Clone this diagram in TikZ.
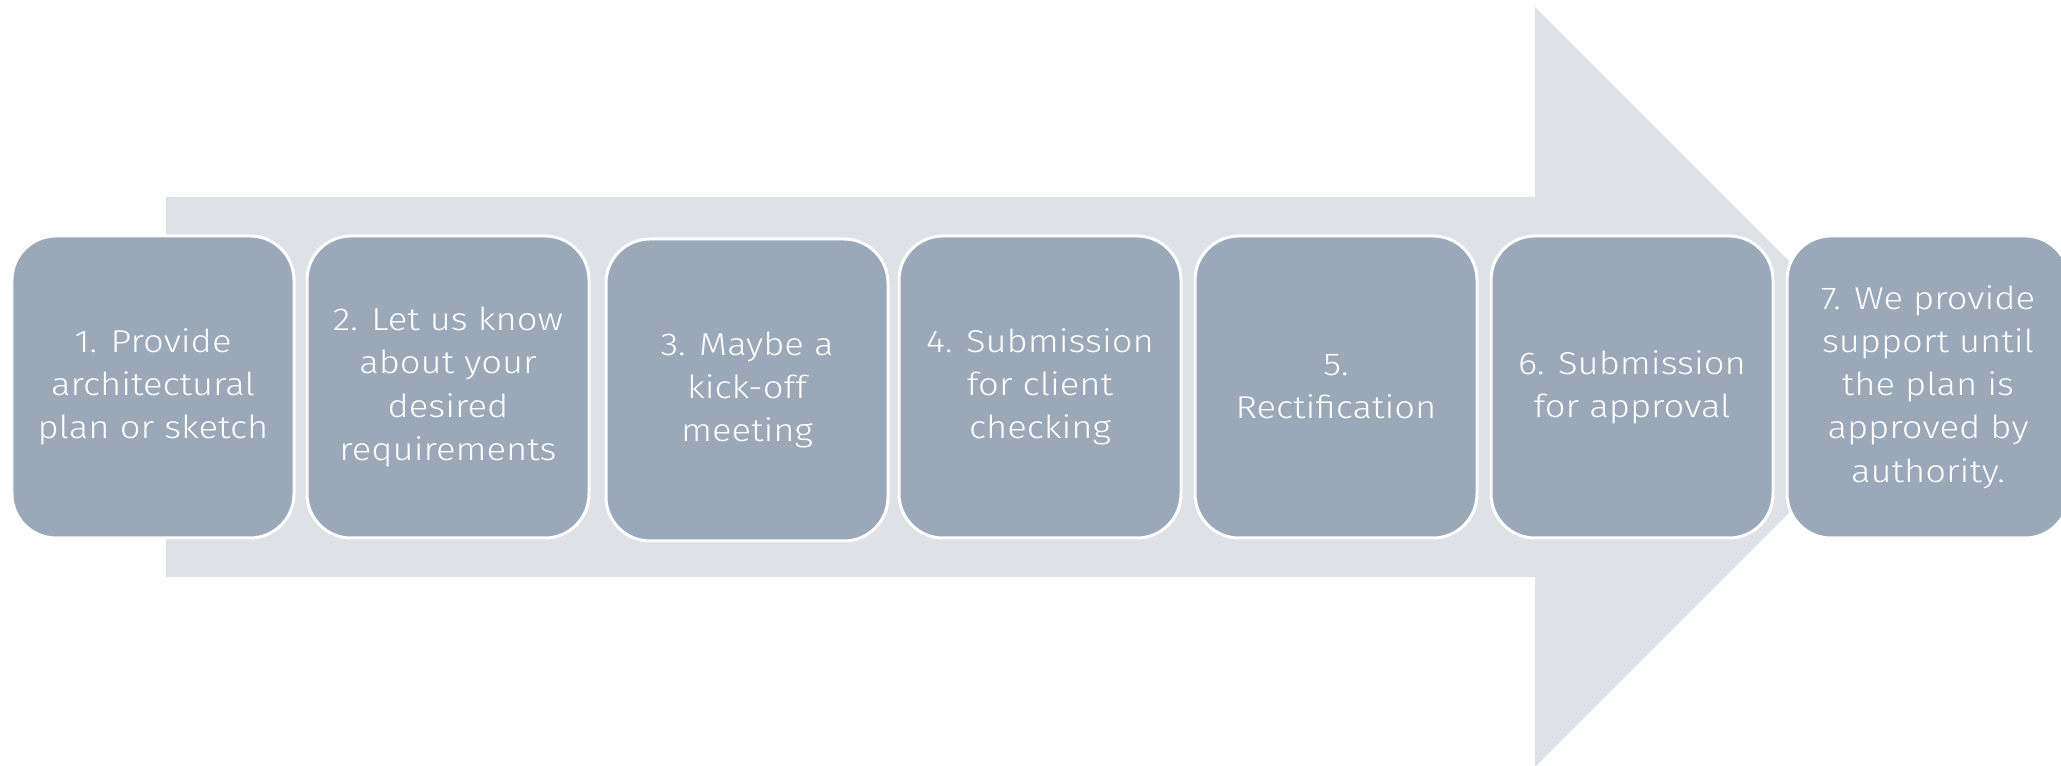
\documentclass[tikz,border=0pt]{standalone}
\usepackage{fontspec}
\setmainfont{Fira Sans}[UprightFont={* Light}, FakeStretch=1.15]
\usepackage{tikz}
\usetikzlibrary{positioning, calc, shapes}
\definecolor{grisclaro}{RGB}{222,225,230}
\definecolor{grisazul}{RGB}{155,168,183}
\tikzset{>=stealth,
	paso/.style={rectangle, rounded corners=0.44cm, fill=grisazul, draw=white, line width=0.03cm, minimum width=2.82cm, minimum height=3.02cm, align=center, text=white, font=\fontsize{9pt}{12.3pt}\selectfont, inner sep=0pt}}

\begin{document}
\begin{tikzpicture}
	
	\clip (0,0) rectangle (20.61,7.66);
	%big arrow behind the steps
	\fill [grisclaro] (1.66,1.89) -- (15.35,1.89) -- (15.35,-0.01) -- (19.15,3.79) -- (15.35,7.59) -- (15.35,5.69) -- (1.66,5.69) -- cycle;
	%steps
	\node [paso] (uno) at (1.53,3.79) {1. Provide\\architectural\\plan or sketch};
	\node [paso] (dos) at (4.48,3.79) {2. Let us know\\about your\\desired\\requirements};
	\node [paso] (tres) at (7.47,3.76) {3. Maybe a\\kick-off\\meeting};
	\node [paso] (cuatro) at (10.40,3.79) {4. Submission\\for client\\checking};
	\node [paso] (cinco) at (13.36,3.79) {5.\\Rectification};
	\node [paso] (seis) at (16.32,3.79) {6. Submission\\for approval};
	\node [paso] (siete) at (19.28,3.79) {7. We provide\\support until\\the plan is\\approved by\\authority.};
\end{tikzpicture}
\end{document}
